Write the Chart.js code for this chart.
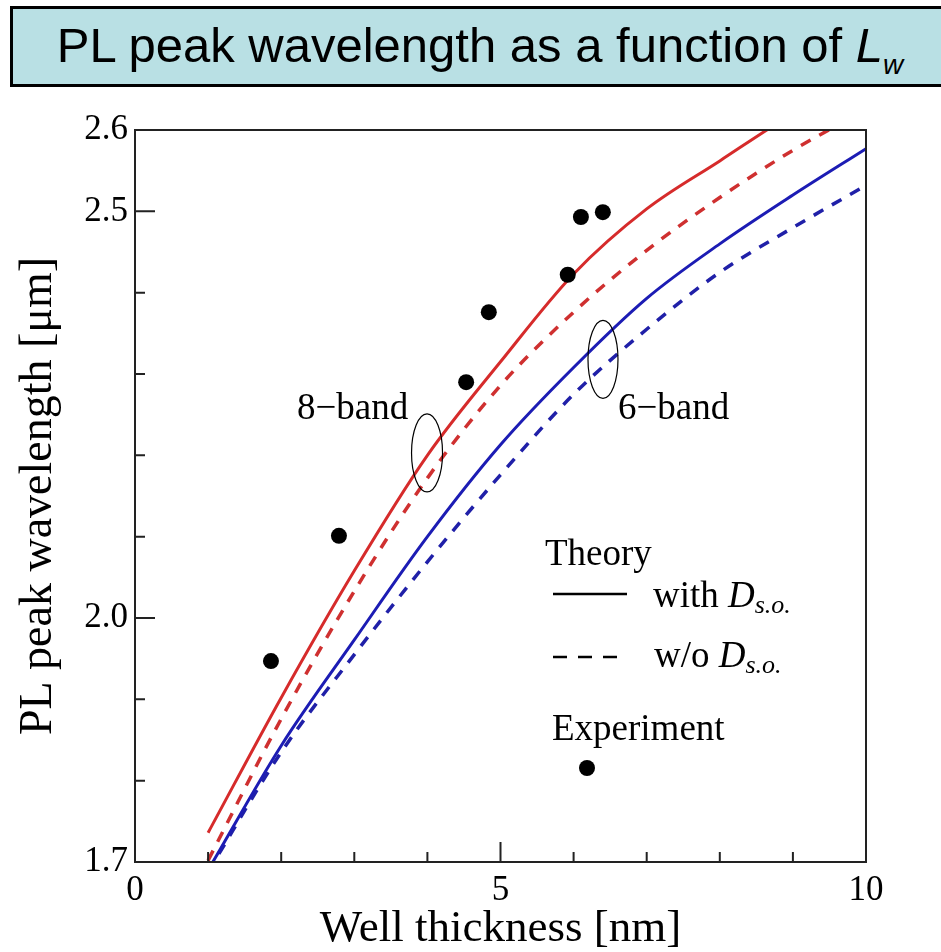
<!DOCTYPE html>
<html>
<head>
<meta charset="utf-8">
<script src="https://cdn.jsdelivr.net/npm/chart.js@4.4.1/dist/chart.umd.min.js"></script>
<style>
  html, body { margin: 0; padding: 0; background: #fff; }
  body { width: 941px; height: 952px; position: relative; overflow: hidden; }
  #wrap { position: absolute; left: 0; top: 0; width: 941px; height: 952px; }
  #title {
    position: absolute; left: 10px; top: 6px; width: 940px; height: 81px;
    box-sizing: border-box; border: 3px solid #000; background: #b9e0e4;
    font-family: Arial, "Liberation Sans", sans-serif; font-size: 49px;
    line-height: 72px; text-align: center; color: #000; white-space: nowrap;
  }
  #title sub { font-size: 28px; vertical-align: -12px; line-height: 0; }
</style>
</head>
<body>
<div id="wrap"><canvas id="chart" width="941" height="952"></canvas></div>
<div id="title">PL peak wavelength as a function of <i>L<sub>w</sub></i></div>
<script>
// Theory curves (well thickness in nm -> PL peak wavelength in um)
const thickness = [1, 2, 3, 4, 5, 6, 7, 8, 9, 10];
const band8With = [1.736, 1.902, 2.058, 2.200, 2.315, 2.423, 2.503, 2.562, 2.620, 2.668];
const band8Without = [1.702, 1.876, 2.033, 2.172, 2.286, 2.376, 2.452, 2.517, 2.575, 2.625];
const band6With = [1.690, 1.843, 1.973, 2.100, 2.213, 2.308, 2.393, 2.460, 2.520, 2.577];
const band6Without = [1.688, 1.835, 1.955, 2.069, 2.176, 2.275, 2.355, 2.425, 2.480, 2.532];

// Experiment
const expThickness = [1.86, 2.79, 4.53, 4.84, 5.92, 6.10, 6.40];
const expWavelength = [1.947, 2.101, 2.290, 2.376, 2.422, 2.493, 2.499];

// axes
const xTicks = [0, 1, 2, 3, 4, 5, 6, 7, 8, 9, 10];
const xLabels = [0, 5, 10];
const yTicks = [1.7, 1.8, 1.9, 2.0, 2.1, 2.2, 2.3, 2.4, 2.5, 2.6];
const yLabels = [1.7, 2.0, 2.5, 2.6];

const serif = '"Liberation Serif", "Times New Roman", "DejaVu Serif", serif';
const near = (list, v) => list.some(l => Math.abs(l - v) < 1e-6);
const toPoints = (xs, ys) => xs.map((x, i) => ({ x: x, y: ys[i] }));

function curve(label, ys, color, dashed) {
  return {
    label: label,
    data: toPoints(thickness, ys),
    showLine: true,
    borderColor: color,
    borderWidth: dashed ? 3.5 : 3,
    borderDash: dashed ? [11, 10] : [],
    pointRadius: 0,
    cubicInterpolationMode: 'monotone',
    clip: 0
  };
}

// frame, inward ticks, annotations and legend
const decor = {
  id: 'decor',
  afterDatasetsDraw(chart) {
    const { ctx, chartArea: a, scales: { x, y } } = chart;
    ctx.save();
    ctx.strokeStyle = '#222';
    ctx.lineWidth = 2;
    ctx.strokeRect(a.left, a.top, a.right - a.left, a.bottom - a.top);
    ctx.beginPath();
    y.ticks.forEach(t => {
      const py = y.getPixelForValue(t.value);
      const len = near([2.0, 2.5], t.value) ? 20 : 10;
      ctx.moveTo(a.left, py); ctx.lineTo(a.left + len, py);
    });
    x.ticks.forEach(t => {
      const px = x.getPixelForValue(t.value);
      const len = near([5], t.value) ? 20 : 10;
      ctx.moveTo(px, a.bottom); ctx.lineTo(px, a.bottom - len);
    });
    ctx.stroke();

    // band annotations
    ctx.fillStyle = '#000';
    ctx.strokeStyle = '#000';
    ctx.lineWidth = 1.2;
    ctx.font = '37px ' + serif;
    ctx.textBaseline = 'alphabetic';
    ctx.textAlign = 'left';
    ctx.fillText('8\u2212band', x.getPixelForValue(2.216), y.getPixelForValue(2.245));
    ctx.fillText('6\u2212band', x.getPixelForValue(6.607), y.getPixelForValue(2.245));
    ctx.beginPath();
    ctx.ellipse(x.getPixelForValue(3.995), y.getPixelForValue(2.203), 15.5, 39, 0, 0, Math.PI * 2);
    ctx.stroke();
    ctx.beginPath();
    ctx.ellipse(x.getPixelForValue(6.402), y.getPixelForValue(2.318), 15, 39, 0, 0, Math.PI * 2);
    ctx.stroke();

    // legend
    const lx = a.left + 410;
    ctx.fillText('Theory', lx, 565);
    ctx.lineWidth = 2.5;
    ctx.beginPath();
    ctx.moveTo(lx + 8, 594); ctx.lineTo(lx + 82, 594);
    ctx.stroke();
    ctx.setLineDash([14, 11]);
    ctx.beginPath();
    ctx.moveTo(lx + 8, 657); ctx.lineTo(lx + 75, 657);
    ctx.stroke();
    ctx.setLineDash([]);

    function dso(prefix, tx, base) {
      ctx.font = '37px ' + serif;
      ctx.fillText(prefix, tx, base);
      let cx = tx + ctx.measureText(prefix).width;
      ctx.font = 'italic 37px ' + serif;
      ctx.fillText('D', cx, base);
      cx += ctx.measureText('D').width;
      ctx.font = 'italic 26px ' + serif;
      ctx.fillText('s.o.', cx, base + 6);
    }
    dso('with ', lx + 108, 607);
    dso('w/o ', lx + 109, 667);

    ctx.font = '37px ' + serif;
    ctx.fillText('Experiment', lx + 7, 740);
    ctx.beginPath();
    ctx.arc(lx + 42, 768, 8, 0, Math.PI * 2);
    ctx.fill();
    ctx.restore();
  }
};

new Chart(document.getElementById('chart').getContext('2d'), {
  type: 'scatter',
  data: {
    datasets: [
      {
        label: 'Experiment',
        data: toPoints(expThickness, expWavelength),
        backgroundColor: '#000',
        borderWidth: 0,
        pointRadius: 8,
        pointHoverRadius: 8,
        showLine: false
      },
      curve('8-band with Ds.o.', band8With, '#d62b2b', false),
      curve('8-band w/o Ds.o.', band8Without, '#cf3030', true),
      curve('6-band with Ds.o.', band6With, '#1c1cb4', false),
      curve('6-band w/o Ds.o.', band6Without, '#2020a8', true)
    ]
  },
  options: {
    responsive: false,
    devicePixelRatio: 1,
    animation: false,
    layout: { padding: { top: 130, right: 75, left: 0, bottom: 0 } },
    plugins: { legend: { display: false }, tooltip: { enabled: false } },
    scales: {
      x: {
        type: 'linear', min: 0, max: 10,
        afterBuildTicks: s => { s.ticks = xTicks.map(v => ({ value: v })); },
        afterFit: s => { s.height = 90; },
        grid: { display: false, drawTicks: false },
        border: { display: false },
        ticks: {
          autoSkip: false, maxRotation: 0, padding: 8, color: '#000',
          font: { family: serif, size: 35 },
          callback: v => near(xLabels, v) ? String(v) : ''
        },
        title: {
          display: true, text: 'Well thickness [nm]', color: '#000',
          font: { family: serif, size: 45, lineHeight: 1 },
          padding: { top: 0, bottom: 0 }
        }
      },
      y: {
        type: 'linear', min: 1.7, max: 2.6,
        afterBuildTicks: s => { s.ticks = yTicks.map(v => ({ value: v })); },
        afterFit: s => { s.width = 135; },
        grid: { display: false, drawTicks: false },
        border: { display: false },
        ticks: {
          autoSkip: false, padding: 7, color: '#000',
          font: { family: serif, size: 35 },
          callback: v => near(yLabels, v) ? v.toFixed(1) : ''
        },
        title: {
          display: true, text: 'PL peak wavelength [\u03bcm]', color: '#000',
          font: { family: serif, size: 46, lineHeight: 1.2 },
          padding: { top: 11, bottom: 0 }
        }
      }
    }
  },
  plugins: [decor]
});
</script>
</body>
</html>
